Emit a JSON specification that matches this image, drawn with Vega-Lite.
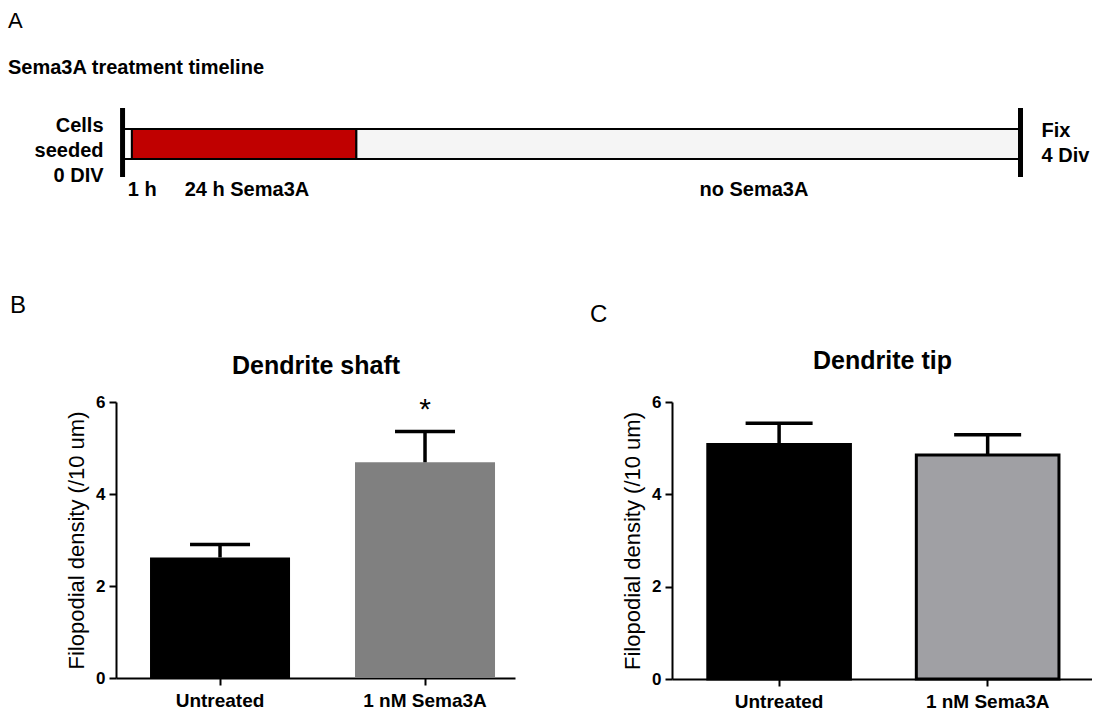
{
  "$schema": "https://vega.github.io/schema/vega-lite/v6.json",
  "padding": {"left": 8, "top": 10, "right": 0, "bottom": 0},
  "background": "white",
  "config": {
    "font": "Liberation Sans",
    "view": {"stroke": null},
    "axis": {
      "labelColor": "black", "titleColor": "black", "domainColor": "black", "tickColor": "black",
      "labelFontWeight": "bold", "domainWidth": 2, "tickWidth": 2, "grid": false,
      "titleFontWeight": "normal", "labelFont": "Liberation Sans", "titleFont": "Liberation Sans"
    },
    "title": {"color": "black", "subtitleColor": "black", "font": "Liberation Sans", "subtitleFont": "Liberation Sans"}
  },
  "bounds": "flush",
  "spacing": 198,
  "vconcat": [
    {
      "width": 912,
      "height": 120,
      "title": {
        "text": "A", "subtitle": "Sema3A treatment timeline",
        "anchor": "start", "frame": "group", "dx": -108,
        "fontSize": 22, "fontWeight": "normal",
        "subtitleFontSize": 20, "subtitleFontWeight": "bold",
        "subtitlePadding": 25, "offset": 5
      },
      "layer": [
        {
          "data": {"values": [
            {"phase": "before", "start": 0, "end": 1},
            {"phase": "Sema3A", "start": 1, "end": 25},
            {"phase": "no Sema3A", "start": 25, "end": 96}
          ]},
          "mark": {"type": "rect", "stroke": "black", "strokeWidth": 2},
          "encoding": {
            "x": {"field": "start", "type": "quantitative", "scale": {"domain": [-0.7, 96.8], "nice": false, "zero": false}, "axis": null},
            "x2": {"field": "end"},
            "y": {"datum": -0.5, "type": "quantitative", "scale": {"domain": [-2, 2], "nice": false}, "axis": null},
            "y2": {"datum": 0.5},
            "fill": {"field": "phase", "type": "nominal", "scale": {"domain": ["before", "Sema3A", "no Sema3A"], "range": ["#ffffff", "#c00000", "#f5f5f5"]}, "legend": null}
          }
        },
        {
          "data": {"values": [{"t": 0}, {"t": 96}]},
          "mark": {"type": "rule", "strokeWidth": 5, "color": "black"},
          "encoding": {
            "x": {"field": "t", "type": "quantitative"},
            "y": {"datum": 1.2, "type": "quantitative"},
            "y2": {"datum": -1.1}
          }
        },
        {
          "data": {"values": [
            {"label": "1 h", "t": 2.1},
            {"label": "24 h Sema3A", "t": 13.3},
            {"label": "no Sema3A", "t": 67.5}
          ]},
          "mark": {"type": "text", "fontSize": 20, "fontWeight": "bold", "align": "center", "baseline": "middle", "color": "black"},
          "encoding": {
            "x": {"field": "t", "type": "quantitative"},
            "y": {"datum": -1.53, "type": "quantitative"},
            "text": {"field": "label"}
          }
        },
        {
          "data": {"values": [{"label": "Cells\nseeded\n0 DIV", "t": 0}]},
          "mark": {"type": "text", "fontSize": 20, "fontWeight": "bold", "align": "right", "baseline": "middle", "lineBreak": "\n", "lineHeight": 25, "dx": -19, "color": "black"},
          "encoding": {
            "x": {"field": "t", "type": "quantitative"},
            "y": {"datum": 0.6, "type": "quantitative"},
            "text": {"field": "label"}
          }
        },
        {
          "data": {"values": [{"label": "Fix\n4 Div", "t": 96}]},
          "mark": {"type": "text", "fontSize": 20, "fontWeight": "bold", "align": "left", "baseline": "middle", "lineBreak": "\n", "lineHeight": 25, "dx": 21, "color": "black"},
          "encoding": {
            "x": {"field": "t", "type": "quantitative"},
            "y": {"datum": 0.42, "type": "quantitative"},
            "text": {"field": "label"}
          }
        }
      ]
    },
    {
      "bounds": "flush",
      "spacing": 157,
      "resolve": {"scale": {"color": "independent", "x": "independent", "y": "independent"}},
      "hconcat": [
        {
          "width": 399,
          "height": 276,
          "title": {"text": "B", "anchor": "start", "frame": "group", "dx": -106, "fontSize": 24, "fontWeight": "normal", "offset": 35},
          "data": {"values": [
            {"group": "Untreated", "mean": 2.62, "upper": 2.9, "sig": ""},
            {"group": "1 nM Sema3A", "mean": 4.69, "upper": 5.36, "sig": "*"}
          ]},
          "layer": [
            {
              "mark": {"type": "bar"},
              "encoding": {
                "x": {"field": "group", "type": "nominal", "sort": null,
                  "scale": {"paddingInner": 0.317, "paddingOuter": 0.1317, "align": 0.63},
                  "axis": {"title": null, "labelAngle": 0, "labelFontSize": 19, "labelPadding": 6, "tickSize": 7}},
                "y": {"field": "mean", "type": "quantitative", "scale": {"domain": [0, 6], "nice": false},
                  "axis": {"title": "Filopodial density (/10 um)", "values": [0, 2, 4, 6], "labelFontSize": 17, "tickSize": 7, "labelPadding": 4, "titleFontSize": 22, "titlePadding": 7}},
                "color": {"field": "group", "type": "nominal", "scale": {"domain": ["Untreated", "1 nM Sema3A"], "range": ["#000000", "#808080"]}, "legend": null}
              }
            },
            {
              "mark": {"type": "rule", "strokeWidth": 3.5, "color": "black"},
              "encoding": {
                "x": {"field": "group", "type": "nominal", "sort": null,
                  "axis": {"orient": "top", "title": "Dendrite shaft", "labels": false, "ticks": false, "domain": false, "titleFontSize": 25, "titleFontWeight": "bold", "titlePadding": 24}},
                "y": {"field": "mean", "type": "quantitative",
                  "axis": {"title": "Filopodial density (/10 um)", "values": [0, 2, 4, 6], "labelFontSize": 17, "tickSize": 7, "labelPadding": 4, "titleFontSize": 22, "titlePadding": 7}},
                "y2": {"field": "upper"}
              }
            },
            {
              "mark": {"type": "tick", "thickness": 3.5, "size": 60, "color": "black", "opacity": 1},
              "encoding": {
                "x": {"field": "group", "type": "nominal", "sort": null, "axis": null},
                "y": {"field": "upper", "type": "quantitative",
                  "axis": {"title": "Filopodial density (/10 um)", "values": [0, 2, 4, 6], "labelFontSize": 17, "tickSize": 7, "labelPadding": 4, "titleFontSize": 22, "titlePadding": 7}}
              }
            },
            {
              "mark": {"type": "text", "fontSize": 30, "dy": -21, "baseline": "middle", "color": "black"},
              "encoding": {
                "x": {"field": "group", "type": "nominal", "sort": null, "axis": null},
                "y": {"field": "upper", "type": "quantitative",
                  "axis": {"title": "Filopodial density (/10 um)", "values": [0, 2, 4, 6], "labelFontSize": 17, "tickSize": 7, "labelPadding": 4, "titleFontSize": 22, "titlePadding": 7}},
                "text": {"field": "sig"}
              }
            }
          ],
          "resolve": {"axis": {"x": "independent"}}
        },
        {
          "width": 420,
          "height": 277,
          "title": {"text": "C", "anchor": "start", "frame": "group", "dx": -82, "fontSize": 24, "fontWeight": "normal", "offset": 21},
          "data": {"values": [
            {"group": "Untreated", "mean": 5.08, "upper": 5.54},
            {"group": "1 nM Sema3A", "mean": 4.85, "upper": 5.29}
          ]},
          "layer": [
            {
              "mark": {"type": "bar", "stroke": "black", "strokeWidth": 3},
              "encoding": {
                "x": {"field": "group", "type": "nominal", "sort": null,
                  "scale": {"paddingInner": 0.316, "paddingOuter": 0.165, "align": 0.52},
                  "axis": {"title": null, "labelAngle": 0, "labelFontSize": 19, "labelPadding": 6, "tickSize": 7}},
                "y": {"field": "mean", "type": "quantitative", "scale": {"domain": [0, 6], "nice": false},
                  "axis": {"title": "Filopodial density (/10 um)", "values": [0, 2, 4, 6], "labelFontSize": 17, "tickSize": 7, "labelPadding": 4, "titleFontSize": 22, "titlePadding": 7}},
                "color": {"field": "group", "type": "nominal", "scale": {"domain": ["Untreated", "1 nM Sema3A"], "range": ["#000000", "#a0a0a4"]}, "legend": null}
              }
            },
            {
              "mark": {"type": "rule", "strokeWidth": 3.5, "color": "black"},
              "encoding": {
                "x": {"field": "group", "type": "nominal", "sort": null,
                  "axis": {"orient": "top", "title": "Dendrite tip", "labels": false, "ticks": false, "domain": false, "titleFontSize": 25, "titleFontWeight": "bold", "titlePadding": 29}},
                "y": {"field": "mean", "type": "quantitative",
                  "axis": {"title": "Filopodial density (/10 um)", "values": [0, 2, 4, 6], "labelFontSize": 17, "tickSize": 7, "labelPadding": 4, "titleFontSize": 22, "titlePadding": 7}},
                "y2": {"field": "upper"}
              }
            },
            {
              "mark": {"type": "tick", "thickness": 3.5, "size": 67, "color": "black", "opacity": 1},
              "encoding": {
                "x": {"field": "group", "type": "nominal", "sort": null, "axis": null},
                "y": {"field": "upper", "type": "quantitative",
                  "axis": {"title": "Filopodial density (/10 um)", "values": [0, 2, 4, 6], "labelFontSize": 17, "tickSize": 7, "labelPadding": 4, "titleFontSize": 22, "titlePadding": 7}}
              }
            }
          ],
          "resolve": {"axis": {"x": "independent"}}
        }
      ]
    }
  ]
}
